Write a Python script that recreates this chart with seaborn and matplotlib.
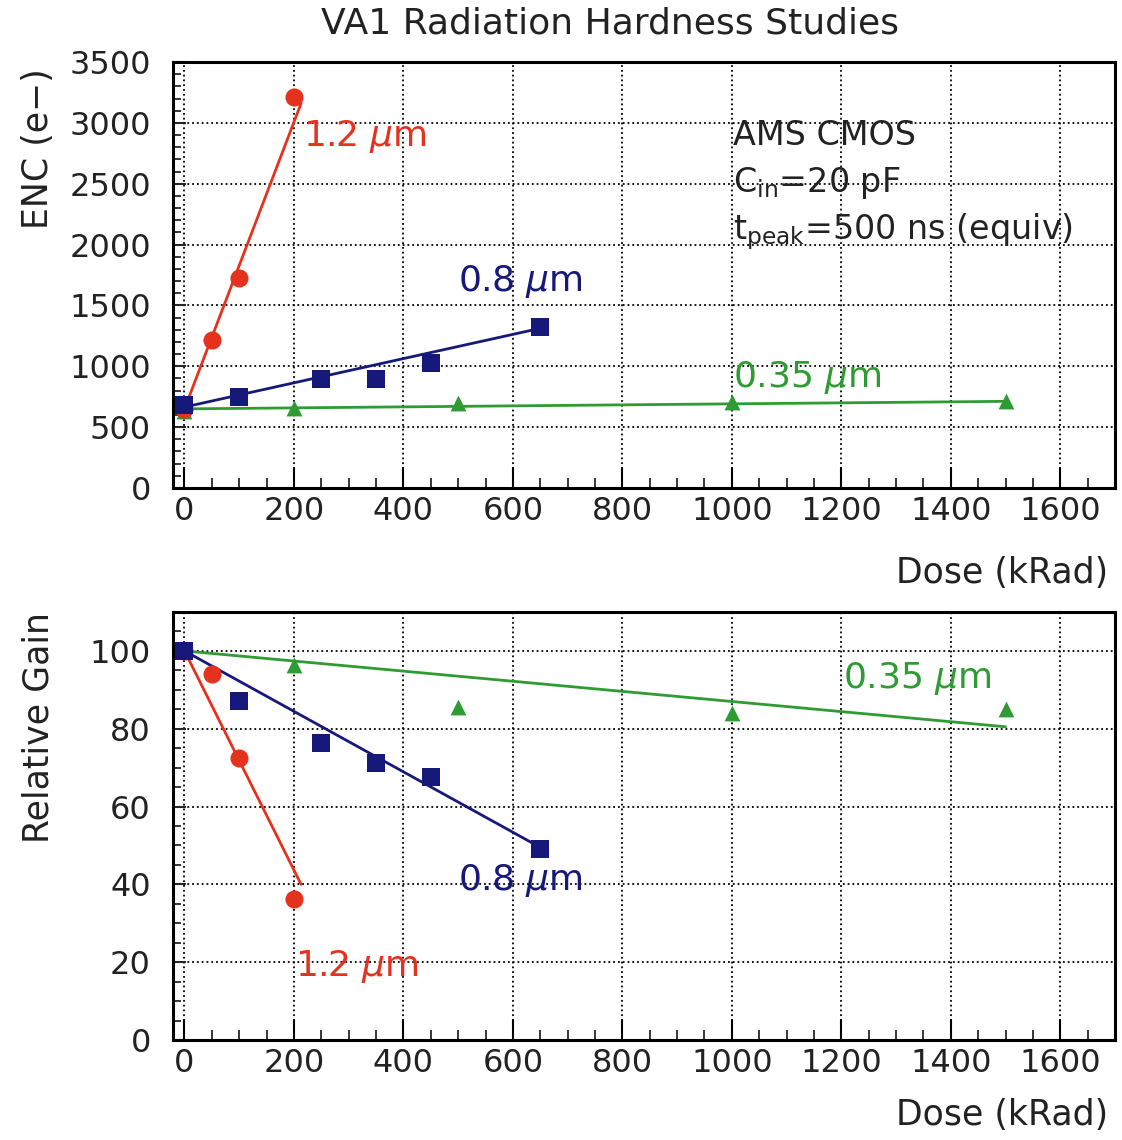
import matplotlib
matplotlib.use("Agg")
import matplotlib.pyplot as plt
import seaborn as sns
import pandas as pd
from matplotlib.ticker import MultipleLocator

# ---------------- data ----------------
# ENC (top panel)
enc_dose_12 = [0, 50, 100, 200]
enc_val_12 = [650, 1215, 1726, 3210]
enc_dose_08 = [0, 100, 250, 350, 450, 650]
enc_val_08 = [680, 745, 892, 892, 1024, 1321]
enc_dose_035 = [0, 200, 500, 1000, 1500]
enc_val_035 = [630, 660, 695, 710, 715]

enc_fit_dose_12 = [0, 213]
enc_fit_val_12 = [650, 3160]
enc_fit_dose_08 = [0, 650]
enc_fit_val_08 = [665, 1312]
enc_fit_dose_035 = [0, 1500]
enc_fit_val_035 = [650, 712]

# Relative gain (bottom panel)
gain_dose_12 = [0, 50, 100, 200]
gain_val_12 = [100, 94, 72.5, 36.3]
gain_dose_08 = [0, 100, 250, 350, 450, 650]
gain_val_08 = [100, 87, 76.4, 71.2, 67.6, 49]
gain_dose_035 = [0, 200, 500, 1000, 1500]
gain_val_035 = [100, 96.5, 85.5, 84, 85]

gain_fit_dose_12 = [0, 213]
gain_fit_val_12 = [100, 40]
gain_fit_dose_08 = [0, 650]
gain_fit_val_08 = [100, 49.5]
gain_fit_dose_035 = [0, 1500]
gain_fit_val_035 = [100, 80.5]

x_ticks = [0, 200, 400, 600, 800, 1000, 1200, 1400, 1600]
enc_ticks = [0, 500, 1000, 1500, 2000, 2500, 3000, 3500]
gain_ticks = [0, 20, 40, 60, 80, 100]

title = "VA1 Radiation Hardness Studies"
label_12 = r"1.2 $\mu$m"
label_08 = r"0.8 $\mu$m"
label_035 = r"0.35 $\mu$m"
info_lines = ["AMS CMOS", r"C$_{\mathrm{in}}$=20 pF", r"t$_{\mathrm{peak}}$=500 ns (equiv)"]

# ---------------- style ----------------
sns.set_style("white")
plt.rcParams["font.family"] = ["DejaVu Sans"]
plt.rcParams["mathtext.fontset"] = "dejavusans"

RED = "#e5321f"
BLUE = "#17197a"
GREEN = "#2f9b33"
TXT = "#222222"

fig = plt.figure(figsize=(11.22, 11.40), dpi=100)
ax1 = fig.add_axes([173 / 1122, 1 - 488 / 1140, 942 / 1122, 426 / 1140])
ax2 = fig.add_axes([173 / 1122, 1 - 1040 / 1140, 942 / 1122, 428 / 1140])


def draw_series(ax, dose, val, fdose, fval, color, marker, size):
    sns.lineplot(x=fdose, y=fval, ax=ax, color=color, linewidth=2.0,
                 estimator=None, sort=False, zorder=3)
    sns.scatterplot(x=dose, y=val, ax=ax, color=color, marker=marker, s=size,
                    edgecolor=color, linewidth=0, zorder=4)


def style_axis(ax, yticks, yminor, ylim, ylabel, xlabel_y, ylabel_y):
    ax.set_xlim(-21, 1700)
    ax.set_ylim(*ylim)
    ax.set_xticks(x_ticks)
    ax.set_yticks(yticks)
    ax.xaxis.set_minor_locator(MultipleLocator(50))
    ax.yaxis.set_minor_locator(MultipleLocator(yminor))
    ax.tick_params(axis="x", which="major", direction="in", length=15, width=1.5,
                   labelsize=23, pad=6, bottom=True, top=False, colors="black",
                   labelcolor=TXT)
    ax.tick_params(axis="x", which="minor", direction="in", length=7, width=1.3,
                   bottom=True, top=False)
    ax.tick_params(axis="y", which="major", direction="in", length=9, width=1.5,
                   labelsize=23, pad=16, left=True, right=False, labelcolor=TXT)
    ax.tick_params(axis="y", which="minor", direction="in", length=6, width=1.3,
                   left=True, right=False)
    ax.grid(True, which="major", linestyle=":", color="black", linewidth=1.3)
    for s in ax.spines.values():
        s.set_visible(True)
        s.set_linewidth(2.2)
        s.set_color("black")
    ax.set_xlabel("Dose (kRad)", fontsize=25, loc="right", color=TXT)
    ax.xaxis.set_label_coords(0.993, xlabel_y)
    ax.set_ylabel(ylabel, fontsize=25, loc="top", color=TXT)
    ax.yaxis.set_label_coords(-0.125, ylabel_y)


# top panel
draw_series(ax1, enc_dose_035, enc_val_035, enc_fit_dose_035, enc_fit_val_035, GREEN, "^", 130)
draw_series(ax1, enc_dose_12, enc_val_12, enc_fit_dose_12, enc_fit_val_12, RED, "o", 170)
draw_series(ax1, enc_dose_08, enc_val_08, enc_fit_dose_08, enc_fit_val_08, BLUE, "s", 180)
style_axis(ax1, enc_ticks, 100, (0, 3500), "ENC (e−)", -0.16, 0.985)

ax1.text(216, 2890, label_12, color=RED, fontsize=26, ha="left", va="center", zorder=5)
ax1.text(500, 1693, label_08, color=BLUE, fontsize=26, ha="left", va="center", zorder=5)
ax1.text(1002, 904, label_035, color=GREEN, fontsize=26, ha="left", va="center", zorder=5)
for txt, yv in zip(info_lines, [2900, 2506, 2104]):
    ax1.text(1002, yv, txt, color=TXT, fontsize=24, ha="left", va="center", zorder=5)

# bottom panel
draw_series(ax2, gain_dose_035, gain_val_035, gain_fit_dose_035, gain_fit_val_035, GREEN, "^", 130)
draw_series(ax2, gain_dose_12, gain_val_12, gain_fit_dose_12, gain_fit_val_12, RED, "o", 170)
draw_series(ax2, gain_dose_08, gain_val_08, gain_fit_dose_08, gain_fit_val_08, BLUE, "s", 180)
style_axis(ax2, gain_ticks, 5, (0, 110), "Relative Gain", -0.135, 1.0)

ax2.text(1203, 93, label_035, color=GREEN, fontsize=26, ha="left", va="center", zorder=5)
ax2.text(500, 41, label_08, color=BLUE, fontsize=26, ha="left", va="center", zorder=5)
ax2.text(202, 19, label_12, color=RED, fontsize=26, ha="left", va="center", zorder=5)

fig.text(610 / 1122, 1 - 23 / 1140, title, fontsize=26, ha="center", va="center",
         color=TXT)

fig.savefig("out.png", dpi=100)
